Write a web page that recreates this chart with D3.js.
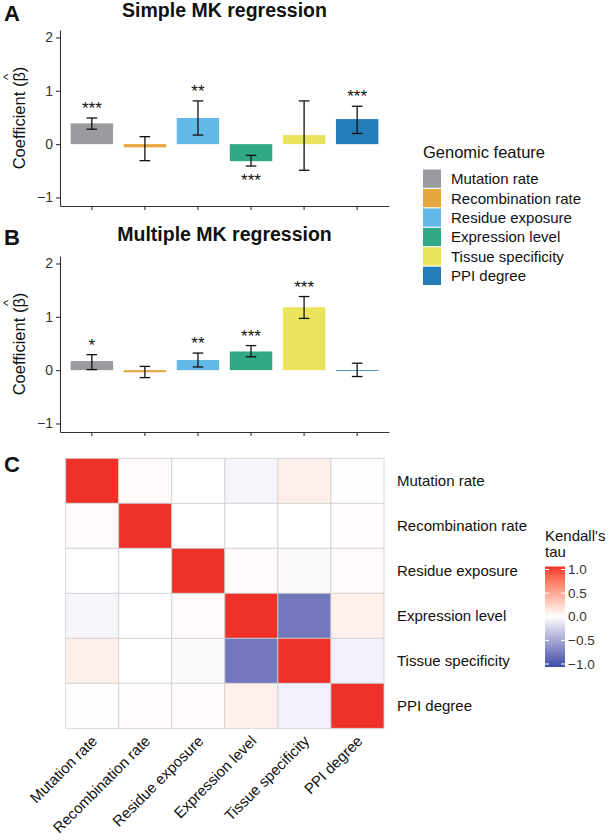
<!DOCTYPE html>
<html><head><meta charset="utf-8">
<script src="https://cdn.jsdelivr.net/npm/d3@7"></script>
<style>
body{margin:0;background:#fff}
text{font-family:"Liberation Sans",Arial,Helvetica,sans-serif}
</style>
</head><body><svg id="c" width="615" height="840"></svg>
<script>
const features = ["Mutation rate","Recombination rate","Residue exposure","Expression level","Tissue specificity","PPI degree"];
const featureColors = ["#919396","#E5A02F","#56B3E6","#1FA27A","#E8E24F","#0F72B4"];
const simpleCoef  = [0.39,-0.06,0.49,-0.32,0.17,0.47];
const simpleLow   = [0.28,-0.31,0.17,-0.41,-0.49,0.20];
const simpleHigh  = [0.49,0.14,0.81,-0.21,0.81,0.71];
const simpleStars = ["***","","**","***","","***"];
const multiCoef   = [0.17,-0.04,0.19,0.35,1.18,-0.015];
const multiLow    = [0.01,-0.14,0.06,0.25,0.97,-0.12];
const multiHigh   = [0.29,0.07,0.32,0.46,1.38,0.13];
const multiStars  = ["*","","**","***","***",""];
const yTicks = [-1,0,1,2];
const tau = [
 [1, 0.02, 0, -0.05, 0.09, -0.005],
 [0.02, 1, 0, 0, 0, 0.015],
 [0, 0, 1, 0.02, -0.025, 0.02],
 [-0.05, 0, 0.02, 1, -0.74, 0.08],
 [0.09, 0, -0.025, -0.74, 1, -0.07],
 [-0.005, 0.015, 0.02, 0.08, -0.07, 1]];
const tauTicks = [-1,-0.5,0,0.5,1];

const svg = d3.select("#c");
const axisCol = "#333";

function panel(o){
  const g = svg.append("g");
  const x = d3.scaleBand().domain(features).range([60,389]).paddingInner(0.2).paddingOuter(0.2);
  const y = d3.scaleLinear().domain([-1.16,2.14]).range([o.bottom,o.top]);
  const step = x.step();
  g.selectAll("rect.bar").data(features).enter().append("rect")
    .attr("x", d=>x(d)).attr("width", x.bandwidth())
    .attr("y", (d,i)=>Math.min(y(0),y(o.coef[i])))
    .attr("height",(d,i)=>Math.abs(y(0)-y(o.coef[i])))
    .attr("fill",(d,i)=>featureColors[i]).attr("fill-opacity",0.92);
  const cx = d=>x(d)+x.bandwidth()/2, hw = step*0.1;
  const eb = g.selectAll("g.eb").data(features).enter().append("g")
    .attr("stroke","#111").attr("stroke-width",1.3).attr("fill","none");
  eb.append("line").attr("x1",cx).attr("x2",cx).attr("y1",(d,i)=>y(o.low[i])).attr("y2",(d,i)=>y(o.high[i]));
  eb.append("line").attr("x1",d=>cx(d)-hw).attr("x2",d=>cx(d)+hw).attr("y1",(d,i)=>y(o.low[i])).attr("y2",(d,i)=>y(o.low[i]));
  eb.append("line").attr("x1",d=>cx(d)-hw).attr("x2",d=>cx(d)+hw).attr("y1",(d,i)=>y(o.high[i])).attr("y2",(d,i)=>y(o.high[i]));
  g.selectAll("text.star").data(features).enter().append("text")
    .attr("x",cx).attr("text-anchor","middle").attr("font-size",17).attr("fill","#111")
    .attr("y",(d,i)=> o.coef[i]>=0 ? y(o.high[i])-13+9 : y(o.low[i])+11+9)
    .text((d,i)=>o.stars[i]);
  const ya = g.append("g").attr("transform","translate(60,0)")
    .call(d3.axisLeft(y).tickValues(yTicks).tickSize(4).tickSizeOuter(0).tickPadding(3).tickFormat(d3.format("d")));
  const xa = g.append("g").attr("transform",`translate(0,${o.bottom})`)
    .call(d3.axisBottom(x).tickSize(4).tickSizeOuter(0).tickFormat(""));
  [ya,xa].forEach(a=>{a.select(".domain").attr("stroke",axisCol).attr("stroke-width",1.1);
    a.selectAll(".tick line").attr("stroke",axisCol).attr("stroke-width",1.1);
    a.selectAll(".tick text").attr("font-size",14).attr("fill","#333").attr("font-family",'"Liberation Sans",Arial,sans-serif');});
  const cyl = (o.top+o.bottom)/2;
  const lab = g.append("g").attr("transform",`translate(25,${cyl}) rotate(-90)`);
  const lt = lab.append("text").attr("text-anchor","middle")
    .attr("font-size",16.5).attr("fill","#111").text("Coefficient (\u03B2)");
  const node = lt.node();
  const total = node.getComputedTextLength();
  const pre = node.getSubStringLength(0,13);
  const bw = node.getSubStringLength(13,1);
  lab.append("text").attr("x",-total/2+pre+bw/2).attr("y",-13).attr("text-anchor","middle")
    .attr("font-size",13).attr("fill","#111").text("^");
  g.append("text").attr("x",224.5).attr("y",o.titleY).attr("text-anchor","middle")
    .attr("font-size",19.5).attr("font-weight","bold").attr("fill","#111").text(o.title);
  g.append("text").attr("x",4).attr("y",o.letterY).attr("font-size",22).attr("font-weight","bold").attr("fill","#111").text(o.letter);
}

panel({top:30,bottom:206,title:"Simple MK regression",titleY:17,letter:"A",letterY:21,
  coef:simpleCoef,low:simpleLow,high:simpleHigh,stars:simpleStars});
panel({top:256,bottom:432,title:"Multiple MK regression",titleY:241,letter:"B",letterY:245,
  coef:multiCoef,low:multiLow,high:multiHigh,stars:multiStars});

const lg = svg.append("g");
lg.append("text").attr("x",423).attr("y",158).attr("font-size",16.5).attr("fill","#111").text("Genomic feature");
const ly = d3.scaleBand().domain(features).range([169.5,285]).paddingInner(0.06);
lg.selectAll("rect").data(features).enter().append("rect")
  .attr("x",423).attr("width",18).attr("y",d=>ly(d)).attr("height",ly.bandwidth())
  .attr("fill",(d,i)=>featureColors[i]).attr("fill-opacity",0.92);
lg.selectAll("text.l").data(features).enter().append("text")
  .attr("x",451).attr("y",d=>ly(d)+ly.bandwidth()/2).attr("dominant-baseline","central")
  .attr("font-size",15).attr("fill","#111").text(d=>d);

const hx = d3.scaleBand().domain(features).range([65.7,384]);
const hy = d3.scaleBand().domain(features).range([458.3,728.3]);
const col = d3.scaleLinear().domain([-1,0,1]).range(["#3C4EA6","#ffffff","#EE3129"]).interpolate(d3.interpolateLab);
const cells = [];
features.forEach((r,i)=>features.forEach((c,j)=>cells.push({r,c,v:tau[i][j]})));
const hg = svg.append("g");
hg.selectAll("rect").data(cells).enter().append("rect")
  .attr("x",d=>hx(d.c)).attr("y",d=>hy(d.r)).attr("width",hx.bandwidth()).attr("height",hy.bandwidth())
  .attr("fill",d=>col(d.v)).attr("stroke","#cfcfcf").attr("stroke-width",0.8);
hg.selectAll("text.r").data(features).enter().append("text")
  .attr("x",397).attr("y",d=>hy(d)+hy.bandwidth()/2).attr("dominant-baseline","central")
  .attr("font-size",15).attr("fill","#111").text(d=>d);
hg.selectAll("text.c").data(features).enter().append("text")
  .attr("transform",d=>`translate(${hx(d)+hx.bandwidth()/2+6},742) rotate(-45)`)
  .attr("text-anchor","end").attr("font-size",15).attr("fill","#111").text(d=>d);
svg.append("text").attr("x",4).attr("y",472).attr("font-size",22).attr("font-weight","bold").attr("fill","#111").text("C");

const defs = svg.append("defs");
const grad = defs.append("linearGradient").attr("id","cb").attr("x1",0).attr("x2",0).attr("y1",1).attr("y2",0);
d3.range(0,1.0001,0.05).forEach(t=>grad.append("stop").attr("offset",t).attr("stop-color",col(-1+2*t)));
const cb = d3.scaleLinear().domain([-1,1]).range([664,569.5]);
const cg = svg.append("g");
cg.append("text").attr("x",545).attr("y",541).attr("font-size",15).attr("fill","#111").text("Kendall's");
cg.append("text").attr("x",545).attr("y",557).attr("font-size",15).attr("fill","#111").text("tau");
cg.append("rect").attr("x",545).attr("y",cb(1)-3).attr("width",20).attr("height",cb(-1)-cb(1)+6).attr("fill","url(#cb)");
cg.selectAll("line.tl").data(tauTicks).enter().append("line")
  .attr("x1",545).attr("x2",549).attr("y1",d=>cb(d)).attr("y2",d=>cb(d)).attr("stroke","#fff").attr("stroke-width",1);
cg.selectAll("line.tr").data(tauTicks).enter().append("line")
  .attr("x1",561).attr("x2",565).attr("y1",d=>cb(d)).attr("y2",d=>cb(d)).attr("stroke","#fff").attr("stroke-width",1);
cg.selectAll("text.t").data(tauTicks).enter().append("text")
  .attr("x",568).attr("y",d=>cb(d)).attr("dominant-baseline","central").attr("font-size",13.5).attr("fill","#333")
  .text(d=>d3.format(".1f")(d));
</script></body></html>
